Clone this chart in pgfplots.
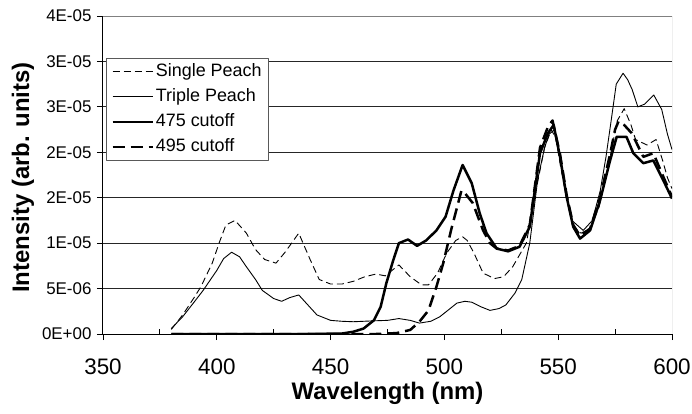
\documentclass[border=0pt]{standalone}
\usepackage{fontspec}
\setmainfont{Liberation Sans}
\usepackage{pgfplots}
\pgfplotsset{compat=1.18}
\begin{document}
\begin{tikzpicture}
\begin{axis}[
  at={(0,0)}, anchor=south west,
  scale only axis, width=569bp, height=318bp,
  xmin=350, xmax=600, ymin=0, ymax=35,
  xtick={350,400,...,600},
  extra x ticks={375,425,...,575}, extra x tick labels={},
  extra x tick style={tick align=inside, major tick length=5bp, xmajorgrids=false},
  ytick={0,5,...,35}, yticklabels={0E+00,5E-06,1E-05,2E-05,2E-05,3E-05,3E-05,4E-05},
  /pgf/number format/assume math mode=true,
  tick align=outside, major tick length=6bp,
  tick style={black, line width=0.8bp},
  ymajorgrids, grid style={black!85, line width=0.8bp},
  axis x line*=bottom, axis y line*=left,
  axis line style={-, black, line width=1bp},
  xticklabel style={font=\fontsize{22.5}{22.5}\selectfont, yshift=-15bp},
  yticklabel style={font=\fontsize{17}{17}\selectfont, xshift=-2bp},
  xlabel={\bfseries Wavelength (nm)},
  ylabel={\bfseries Intensity (arb. units)},
  xlabel style={font=\fontsize{24}{24}\selectfont, at={(axis description cs:0.5,-0.1855)}, anchor=center},
  ylabel style={font=\fontsize{24}{24}\selectfont, at={(axis description cs:-0.1406,0.492)}, anchor=center},
  legend style={at={(axis description cs:0.0053,0.868)}, anchor=north west,
    draw=gray!70!black, fill=white, line width=0.8bp,
    font=\fontsize{18}{21}\selectfont, row sep=0bp,
    inner xsep=5bp, inner ysep=1bp,
    nodes={text height=13bp, text depth=4bp, inner ysep=4bp}},
  legend cell align=left,
  legend image code/.code={\draw[#1] (0bp,0bp) -- (40bp,0bp);},
  line join=round,
]
\draw[gray, line width=0.8bp] (rel axis cs:0,1) -- (rel axis cs:1,1) -- (rel axis cs:1,0);

\addplot[black, line width=0.9bp, dash pattern=on 7bp off 4bp] coordinates {
(380,0.5) (385,2.1) (390,4.0) (393,5.2) (398,7.8) (401,10.0) (404,12.0) (408,12.5)
(413,11.1) (417,9.3) (421,8.2) (426,7.8) (430,9.0) (436,11.1) (441,8.2) (445,6.0)
(450,5.5) (455,5.5) (460,5.8) (465,6.3) (470,6.6) (474,6.4) (480,7.6) (485,6.3)
(490,5.4) (493,5.4) (497,6.7) (501,8.9) (505,10.3) (508,10.7) (510,10.3) (513,8.9)
(517,6.7) (522,6.1) (526,6.3) (530,7.4) (536,10.0) (540,15.5) (544,20.5) (547,22.5)
(549,21.5) (551,18.5) (554,14.5) (557,11.8) (560,11.1) (564,11.6) (568,14.0) (572,18.5)
(576,23.5) (579,24.8) (582,23.0) (584,21.4) (589,20.8) (593,21.4) (596,19.0) (598,17.2) (600,16.0)
};
\addlegendentry{Single Peach}

\addplot[black, line width=0.9bp] coordinates {
(380,0.6) (385,1.9) (390,3.5) (394,4.8) (400,7.0) (403,8.3) (406.5,9.0) (410,8.5)
(413,7.4) (417,6.0) (420,4.8) (425,3.9) (428.5,3.6) (432,4.0) (436,4.3) (440,3.2)
(444,2.1) (450,1.5) (455,1.4) (460,1.35) (469,1.45) (475,1.5) (480,1.7) (485,1.5)
(489,1.2) (494,1.4) (498,1.9) (502,2.7) (505.5,3.4) (509,3.6) (512,3.5) (516,3.0)
(520,2.6) (524,2.8) (527,3.2) (531,4.5) (534,6.0) (537.5,10.0) (541,17.0) (544,20.5)
(546,22.0) (548.5,22.5) (550.5,20.0) (553,16.0) (556,12.5) (561,11.4) (565,12.5)
(568.5,15.8) (571,19.5) (573.5,23.9) (575.5,27.5) (578.5,28.7) (580.5,28.0) (582.5,26.9)
(585,25.0) (588,25.3) (592,26.3) (595.5,24.7) (598,22.0) (600,20.3)
};
\addlegendentry{Triple Peach}

\addplot[black, line width=2.5bp] coordinates {
(380,0) (440,0) (455,0.05) (460,0.25) (464.5,0.6) (469,1.5) (472,3.0) (474.5,5.6)
(477.5,8.1) (480,10.0) (484,10.4) (488,9.7) (492,10.3) (496.5,11.4) (500.5,12.9)
(504,15.8) (508,18.6) (512,16.6) (515.5,13.3) (518.5,11.1) (523,9.4) (528,9.1)
(533,9.6) (537.5,11.8) (542,19.9) (545.5,22.1) (548,23.0) (550.8,19.5) (553.7,15.1)
(556.6,11.8) (559.6,10.5) (564,11.4) (568.4,14.7) (572.8,19.1) (575.7,21.7) (580,21.7)
(583,19.9) (587.4,18.8) (591.8,19.1) (596.2,16.9) (600,14.9)
};
\addlegendentry{475 cutoff}

\addplot[black, line width=2.5bp, dash pattern=on 12bp off 6bp] coordinates {
(380,0) (470,0) (479,0.1) (485,0.45) (489,1.35) (493,2.6) (496.5,5.2) (499.5,7.8)
(503,11.5) (507.5,15.8) (509,15.5) (512.5,14.4) (517,11.4) (520,10.0) (523,9.4)
(528,9.2) (533,9.7) (537.5,12.0) (542,20.5) (545.5,22.8) (547.5,23.5) (550.8,19.8)
(553.7,15.3) (556.6,12.0) (559.6,10.8) (564,11.6) (568.4,15.0) (572.8,19.8) (575,22.5)
(576.5,23.4) (579,23.0) (582.3,22.1) (587.4,19.5) (591.8,19.9) (596.2,17.3) (600,15.1)
};
\addlegendentry{495 cutoff}
\end{axis}
\pgfresetboundingbox
\path[use as bounding box] (-103bp,-80bp) rectangle (589bp,334bp);
\end{tikzpicture}
\end{document}
